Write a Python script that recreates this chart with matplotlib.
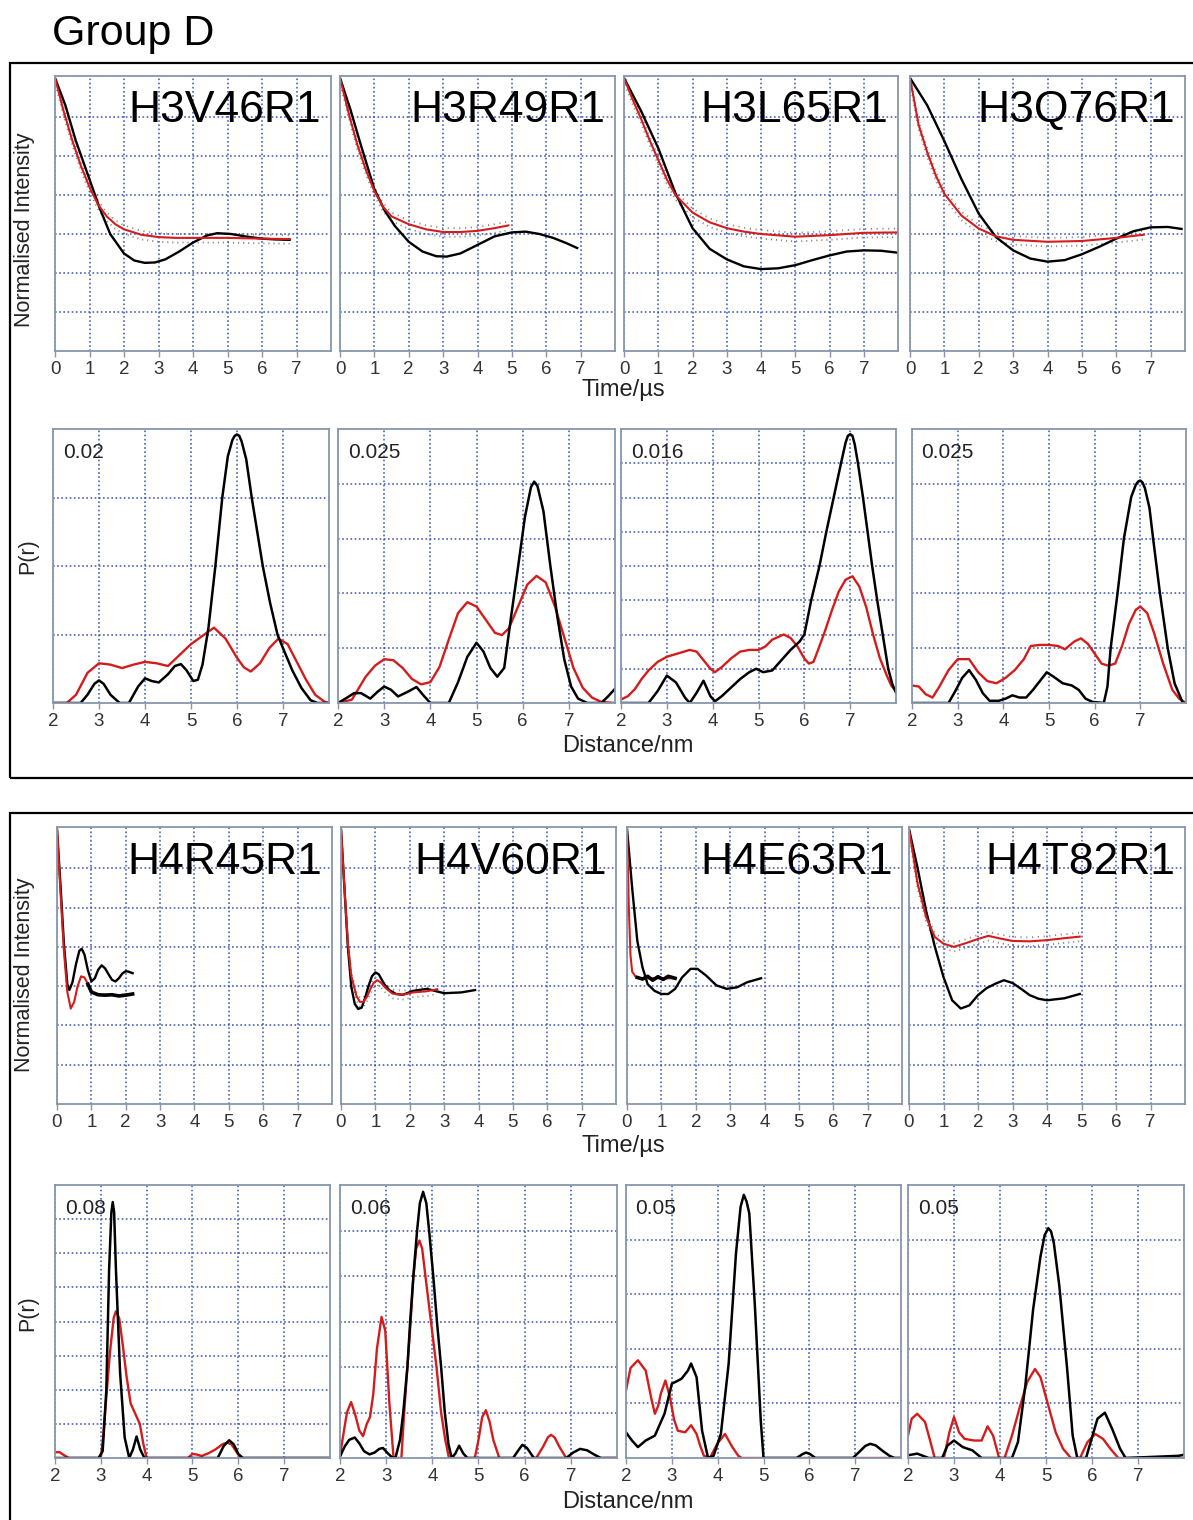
import matplotlib
matplotlib.use('Agg')
import matplotlib.pyplot as plt
from matplotlib.patches import Rectangle

plt.rcParams['font.family'] = ['Liberation Sans', 'DejaVu Sans']

W, H = 1193, 1520

# ---------------- time traces (normalised intensity, grid units 0..7) ----------------
h3v46_sim_t = [0, 0.3, 0.6, 1.0, 1.3, 1.6, 2.0, 2.3, 2.6, 2.9, 3.2, 3.6, 4.0, 4.4, 4.7, 5.1, 5.5, 6.0, 6.4, 6.8]
h3v46_sim_y = [7.0, 6.3, 5.4, 4.4, 3.65, 3.0, 2.5, 2.32, 2.26, 2.27, 2.35, 2.55, 2.78, 2.96, 3.02, 3.0, 2.94, 2.88, 2.86, 2.85]
h3v46_fit_t = [0, 0.25, 0.5, 0.75, 1.0, 1.25, 1.5, 1.75, 2.0, 2.5, 3.0, 3.5, 4.0, 5.0, 6.0, 6.8]
h3v46_fit_y = [7.0, 6.15, 5.4, 4.75, 4.2, 3.75, 3.45, 3.25, 3.12, 2.98, 2.92, 2.9, 2.9, 2.9, 2.88, 2.87]

h3r49_sim_t = [0, 0.3, 0.6, 1.0, 1.3, 1.6, 2.0, 2.4, 2.8, 3.1, 3.5, 4.0, 4.5, 5.0, 5.4, 5.8, 6.2, 6.6, 6.9]
h3r49_sim_y = [7.0, 6.2, 5.3, 4.15, 3.6, 3.2, 2.8, 2.55, 2.43, 2.42, 2.5, 2.72, 2.94, 3.04, 3.06, 3.0, 2.9, 2.76, 2.64]
h3r49_fit_t = [0, 0.25, 0.5, 0.75, 1.0, 1.25, 1.5, 2.0, 2.5, 3.0, 3.5, 4.0, 4.5, 4.9]
h3r49_fit_y = [7.0, 6.1, 5.3, 4.65, 4.1, 3.7, 3.45, 3.25, 3.12, 3.05, 3.05, 3.08, 3.15, 3.22]

h3l65_sim_t = [0, 0.5, 1.0, 1.5, 2.0, 2.5, 3.0, 3.5, 4.0, 4.5, 5.0, 5.5, 6.0, 6.5, 7.0, 7.5, 8.0]
h3l65_sim_y = [7.0, 6.15, 5.2, 4.05, 3.15, 2.62, 2.35, 2.17, 2.1, 2.12, 2.2, 2.33, 2.45, 2.55, 2.58, 2.57, 2.52]
h3l65_fit_t = [0, 0.25, 0.5, 0.75, 1.0, 1.25, 1.5, 2.0, 2.5, 3.0, 3.5, 4.0, 5.0, 6.0, 7.0, 8.0]
h3l65_fit_y = [7.0, 6.45, 5.95, 5.4, 4.9, 4.4, 4.0, 3.55, 3.3, 3.15, 3.06, 3.0, 2.93, 2.97, 3.03, 3.04]

h3q76_sim_t = [0, 0.5, 1.0, 1.5, 2.0, 2.5, 3.0, 3.5, 4.0, 4.5, 5.0, 5.5, 6.0, 6.5, 7.0, 7.5, 7.9]
h3q76_sim_y = [7.0, 6.3, 5.38, 4.4, 3.52, 2.92, 2.58, 2.37, 2.29, 2.33, 2.48, 2.67, 2.88, 3.07, 3.17, 3.18, 3.13]
h3q76_fit_t = [0, 0.25, 0.5, 0.75, 1.0, 1.5, 2.0, 2.5, 3.0, 4.0, 5.0, 6.0, 6.8]
h3q76_fit_y = [7.0, 5.8, 5.1, 4.5, 4.03, 3.47, 3.14, 2.94, 2.85, 2.8, 2.82, 2.9, 2.98]

h4r45_sim_t = [0, 0.1, 0.2, 0.3, 0.36, 0.45, 0.55, 0.65, 0.72, 0.8, 0.9, 1.0, 1.1, 1.2, 1.3, 1.4,
               1.5, 1.6, 1.7, 1.8, 1.9, 2.0, 2.07, 2.2]
h4r45_sim_y = [7.0, 5.6, 4.1, 3.05, 2.9, 3.1, 3.55, 3.9, 3.95, 3.8, 3.4, 3.12, 3.2, 3.42, 3.53, 3.45,
               3.3, 3.16, 3.12, 3.2, 3.32, 3.38, 3.37, 3.33]
h4r45_fit_t = [0, 0.1, 0.2, 0.3, 0.4, 0.5, 0.6, 0.7, 0.8, 0.9, 1.0, 1.1, 1.2, 1.5, 1.8, 2.2]
h4r45_fit_y = [7.0, 5.4, 3.9, 2.85, 2.43, 2.6, 3.0, 3.25, 3.22, 3.05, 2.88, 2.8, 2.78, 2.78, 2.77, 2.8]
h4r45_dat_t = [0.9, 1.0, 1.2, 1.4, 1.6, 1.8, 2.0, 2.2]
h4r45_dat_y = [3.05, 2.85, 2.78, 2.77, 2.78, 2.75, 2.77, 2.8]

h4v60_sim_t = [0, 0.1, 0.2, 0.3, 0.4, 0.5, 0.6, 0.7, 0.8, 0.9, 1.0, 1.1, 1.25, 1.4, 1.6, 1.8, 2.1,
               2.5, 3.0, 3.5, 3.9]
h4v60_sim_y = [7.0, 5.5, 4.0, 2.98, 2.55, 2.42, 2.45, 2.7, 3.0, 3.25, 3.35, 3.3, 3.06, 2.9, 2.8, 2.78,
               2.88, 2.93, 2.82, 2.84, 2.9]
h4v60_fit_t = [0, 0.1, 0.2, 0.3, 0.45, 0.55, 0.65, 0.75, 0.85, 0.95, 1.05, 1.15, 1.3, 1.5, 1.8, 2.1, 2.5, 2.8]
h4v60_fit_y = [7.0, 5.5, 4.1, 3.26, 2.75, 2.6, 2.6, 2.72, 2.92, 3.08, 3.15, 3.1, 2.95, 2.81, 2.78, 2.84, 2.87, 2.92]

h4e63_sim_t = [0, 0.15, 0.3, 0.45, 0.6, 0.8, 1.0, 1.2, 1.4, 1.6, 1.85, 2.05, 2.3, 2.6, 2.9, 3.2, 3.5, 3.9]
h4e63_sim_y = [7.0, 5.5, 4.15, 3.48, 3.05, 2.88, 2.8, 2.8, 2.93, 3.22, 3.44, 3.44, 3.27, 3.02, 2.93, 2.97, 3.1, 3.2]
h4e63_fit_t = [0, 0.05, 0.1, 0.15, 0.25, 0.4, 0.7, 1.0, 1.4]
h4e63_fit_y = [7.0, 5.1, 3.8, 3.37, 3.24, 3.2, 3.2, 3.2, 3.2]
h4e63_dat_t = [0.3, 0.45, 0.6, 0.75, 0.9, 1.05, 1.2, 1.4]
h4e63_dat_y = [3.22, 3.18, 3.25, 3.15, 3.24, 3.17, 3.25, 3.2]

h4t82_sim_t = [0, 0.25, 0.5, 0.75, 1.0, 1.25, 1.5, 1.75, 2.0, 2.25, 2.5, 2.75, 3.0, 3.25, 3.5, 3.75, 4.0, 4.5, 4.95]
h4t82_sim_y = [7.0, 6.0, 4.9, 4.0, 3.23, 2.64, 2.43, 2.51, 2.77, 2.95, 3.06, 3.15, 3.08, 2.93, 2.77, 2.68, 2.64, 2.69, 2.8]
h4t82_fit_t = [0, 0.25, 0.5, 0.75, 1.0, 1.3, 1.6, 2.0, 2.3, 2.6, 3.0, 3.5, 4.0, 4.5, 4.95]
h4t82_fit_y = [7.0, 5.6, 4.75, 4.25, 4.08, 4.0, 4.08, 4.2, 4.28, 4.22, 4.15, 4.14, 4.17, 4.22, 4.26]

# ---------------- distance distributions P(r) ----------------
h3v46_bk_r = [2.0, 2.6, 2.75, 2.9, 3.0, 3.1, 3.25, 3.45, 3.65, 3.85, 4.0, 4.15, 4.3, 4.5, 4.65, 4.78, 4.9, 5.05,
              5.15, 5.25, 5.38, 5.53, 5.68, 5.8, 5.9, 5.95, 6.0, 6.05, 6.1, 6.2, 6.32, 6.44, 6.56, 6.72, 6.88,
              7.0, 7.2, 7.4, 7.6, 7.75, 8.0]
h3v46_bk_p = [0, 0, 0.0006, 0.0014, 0.00165, 0.0014, 0.0006, 0, 0, 0.0012, 0.0018, 0.0016, 0.0015, 0.0021,
              0.0027, 0.00284, 0.0024, 0.0016, 0.0017, 0.0028, 0.0055, 0.0100, 0.0150, 0.0180, 0.0192, 0.0195,
              0.0196, 0.0195, 0.0191, 0.0178, 0.0150, 0.0125, 0.0100, 0.0073, 0.0050, 0.0040, 0.0024, 0.0011,
              0.0002, 0, 0]
h3v46_rd_r = [2.0, 2.3, 2.5, 2.75, 3.0, 3.25, 3.5, 3.75, 4.0, 4.25, 4.5, 4.75, 5.0, 5.25, 5.5, 5.75, 6.0,
              6.15, 6.3, 6.5, 6.7, 6.9, 7.1, 7.3, 7.5, 7.7, 7.9, 8.0]
h3v46_rd_p = [0, 0, 0.0006, 0.0022, 0.0029, 0.0028, 0.00255, 0.0028, 0.003, 0.0029, 0.0027, 0.0035, 0.0043,
              0.0049, 0.0055, 0.0047, 0.0033, 0.0026, 0.0023, 0.0029, 0.0040, 0.0047, 0.0043, 0.0030, 0.0017,
              0.0006, 0.0001, 0]

h3r49_bk_r = [2.0, 2.2, 2.35, 2.5, 2.7, 2.85, 3.0, 3.15, 3.3, 3.5, 3.7, 3.85, 4.0, 4.4, 4.6, 4.8, 5.0, 5.15,
              5.3, 5.45, 5.6, 5.75, 5.9, 6.05, 6.18, 6.25, 6.32, 6.45, 6.6, 6.75, 6.9, 7.05, 7.2, 7.4, 7.7,
              7.85, 8.0]
h3r49_bk_p = [0, 0.0005, 0.0009, 0.0009, 0.0004, 0.001, 0.0015, 0.0012, 0.0006, 0.001, 0.00146, 0.0007, 0, 0,
              0.0019, 0.0042, 0.0055, 0.0047, 0.0032, 0.0024, 0.0032, 0.0079, 0.0124, 0.0170, 0.0197, 0.0202,
              0.0198, 0.0175, 0.0125, 0.0079, 0.0040, 0.0015, 0.0004, 0, 0, 0.0006, 0.0013]
h3r49_rd_r = [2.0, 2.3, 2.6, 2.8, 3.0, 3.2, 3.4, 3.6, 3.8, 4.0, 4.2, 4.4, 4.6, 4.8, 5.0, 5.2, 5.4, 5.55, 5.7,
              5.9, 6.1, 6.3, 6.5, 6.7, 6.9, 7.1, 7.3, 7.5, 7.7, 8.0]
h3r49_rd_p = [0, 0.0003, 0.0024, 0.0034, 0.004, 0.0039, 0.0032, 0.0022, 0.0017, 0.0019, 0.0033, 0.0058, 0.0082,
              0.0092, 0.0088, 0.0076, 0.0064, 0.0062, 0.0068, 0.0088, 0.0108, 0.0116, 0.0110, 0.0088, 0.0060,
              0.0032, 0.0014, 0.0005, 0.0001, 0]

h3l65_bk_r = [2.0, 2.6, 2.8, 3.0, 3.2, 3.4, 3.5, 3.65, 3.8, 3.95, 4.05, 4.2, 4.4, 4.6, 4.8, 4.95, 5.1, 5.3,
              5.5, 5.7, 5.9, 6.0, 6.15, 6.33, 6.48, 6.64, 6.8, 6.9, 6.95, 7.0, 7.05, 7.1, 7.17, 7.28, 7.38,
              7.48, 7.59, 7.71, 7.83, 7.92, 8.0]
h3l65_bk_p = [0, 0, 0.0007, 0.0016, 0.0012, 0.0003, 0, 0.0006, 0.0013, 0.0004, 0.0001, 0.0004, 0.0009, 0.0014,
              0.0018, 0.002, 0.0018, 0.0019, 0.0025, 0.0031, 0.0036, 0.004, 0.006, 0.008, 0.010, 0.012, 0.014,
              0.0152, 0.0156, 0.0157, 0.0156, 0.0151, 0.014, 0.012, 0.010, 0.008, 0.006, 0.004, 0.002, 0.0011,
              0.0006]
h3l65_rd_r = [2.0, 2.15, 2.3, 2.45, 2.6, 2.8, 3.0, 3.25, 3.5, 3.65, 3.8, 3.95, 4.05, 4.2, 4.4, 4.6, 4.8, 5.0,
              5.15, 5.3, 5.55, 5.7, 5.85, 6.0, 6.1, 6.2, 6.3, 6.45, 6.6, 6.75, 6.9, 7.05, 7.2, 7.35, 7.5, 7.65,
              7.8, 7.9, 8.0]
h3l65_rd_p = [0.0002, 0.0004, 0.0008, 0.0014, 0.0019, 0.0024, 0.0027, 0.0029, 0.0031, 0.0030, 0.0025, 0.0020,
              0.0018, 0.0021, 0.0026, 0.0030, 0.0031, 0.0031, 0.0033, 0.0037, 0.0040, 0.0038, 0.0033, 0.0026,
              0.0023, 0.0024, 0.0031, 0.0042, 0.0054, 0.0065, 0.0072, 0.0074, 0.0068, 0.0056, 0.0040, 0.0026,
              0.0016, 0.0010, 0.0007]

h3q76_bk_r = [2.0, 2.8, 2.95, 3.1, 3.25, 3.4, 3.55, 3.7, 3.9, 4.05, 4.2, 4.35, 4.5, 4.65, 4.8, 4.95, 5.1, 5.3,
              5.5, 5.65, 5.8, 5.95, 6.2, 6.28, 6.35, 6.5, 6.64, 6.8, 6.9, 6.95, 7.0, 7.05, 7.1, 7.2, 7.28, 7.43,
              7.6, 7.75, 7.93, 8.0]
h3q76_bk_p = [0, 0, 0.0011, 0.0023, 0.0030, 0.0021, 0.0009, 0.0002, 0.0002, 0.0004, 0.0007, 0.0005, 0.0005,
              0.0012, 0.0020, 0.0028, 0.0024, 0.0018, 0.0016, 0.0012, 0.0004, 0.0001, 0, 0.0015, 0.005, 0.010,
              0.015, 0.0188, 0.0199, 0.0202, 0.0203, 0.0201, 0.0196, 0.0178, 0.015, 0.010, 0.005, 0.0018, 0, 0]
h3q76_rd_r = [2.0, 2.15, 2.3, 2.45, 2.6, 2.8, 3.0, 3.25, 3.45, 3.65, 3.85, 4.05, 4.25, 4.45, 4.6, 4.8, 5.0,
              5.2, 5.35, 5.55, 5.7, 5.85, 6.0, 6.15, 6.3, 6.45, 6.6, 6.75, 6.9, 7.0, 7.15, 7.3, 7.5, 7.7, 7.85, 8.0]
h3q76_rd_p = [0.0016, 0.0015, 0.0008, 0.0005, 0.0015, 0.0030, 0.0040, 0.0040, 0.0028, 0.0020, 0.0018, 0.0023,
              0.0030, 0.0040, 0.0052, 0.0053, 0.0053, 0.0052, 0.0049, 0.0056, 0.0059, 0.0054, 0.0045, 0.0036,
              0.0034, 0.0036, 0.0052, 0.0072, 0.0085, 0.0088, 0.0082, 0.0064, 0.0036, 0.0012, 0.0004, 0]

h4r45_bk_r = [2.0, 2.95, 3.04, 3.12, 3.18, 3.23, 3.26, 3.29, 3.33, 3.42, 3.52, 3.62, 3.7, 3.78, 3.86, 3.95,
              5.55, 5.68, 5.8, 5.9, 6.0, 6.1, 8.0]
h4r45_bk_p = [0, 0, 0.002, 0.020, 0.055, 0.072, 0.075, 0.072, 0.055, 0.025, 0.006, 0, 0.0025, 0.0063, 0.0025,
              0, 0, 0.0035, 0.0052, 0.0040, 0.0012, 0, 0]
h4r45_rd_r = [2.0, 2.1, 2.2, 2.3, 3.0, 3.05, 3.12, 3.2, 3.28, 3.33, 3.4, 3.48, 3.56, 3.65, 3.75, 3.85, 3.93,
              4.0, 4.9, 5.0, 5.1, 5.2, 5.35, 5.5, 5.65, 5.75, 5.85, 5.95, 6.05, 8.0]
h4r45_rd_p = [0.0017, 0.0017, 0.0008, 0, 0, 0.006, 0.018, 0.031, 0.041, 0.043, 0.041, 0.033, 0.024, 0.016,
              0.013, 0.010, 0.004, 0, 0, 0.0012, 0.0010, 0.0006, 0.0014, 0.0025, 0.0040, 0.0045, 0.0040,
              0.0020, 0, 0]

h4v60_bk_r = [2.0, 2.1, 2.2, 2.32, 2.42, 2.52, 2.64, 2.75, 2.85, 2.93, 3.02, 3.12, 3.2, 3.3, 3.37, 3.46, 3.52,
              3.59, 3.67, 3.73, 3.8, 3.87, 3.93, 4.02, 4.1, 4.19, 4.27, 4.35, 4.42, 4.5, 4.58, 4.67, 4.76, 5.75,
              5.85, 5.95, 6.05, 6.2, 6.9, 7.05, 7.2, 7.35, 7.5, 7.65, 8.0]
h4v60_bk_p = [0.0003, 0.0025, 0.004, 0.0045, 0.0032, 0.0015, 0.0008, 0.0012, 0.002, 0.0022, 0.0012, 0.0002, 0,
              0.004, 0.010, 0.020, 0.030, 0.040, 0.050, 0.056, 0.0585, 0.056, 0.050, 0.040, 0.030, 0.020, 0.010,
              0.003, 0, 0.001, 0.0027, 0.001, 0, 0, 0.0015, 0.0029, 0.0022, 0, 0, 0.0012, 0.002, 0.0017,
              0.0008, 0, 0]
h4v60_rd_r = [2.0, 2.07, 2.15, 2.24, 2.33, 2.42, 2.5, 2.58, 2.65, 2.72, 2.8, 2.9, 2.98, 3.07, 3.16, 3.33, 3.39,
              3.46, 3.53, 3.59, 3.65, 3.72, 3.78, 3.85, 3.97, 4.09, 4.19, 4.28, 4.36, 4.92, 5.0, 5.08, 5.16,
              5.24, 5.32, 5.45, 6.25, 6.4, 6.5, 6.57, 6.65, 6.75, 6.9, 8.0]
h4v60_rd_p = [0.0005, 0.005, 0.010, 0.0123, 0.0095, 0.006, 0.0048, 0.0075, 0.009, 0.014, 0.024, 0.031, 0.028,
              0.012, 0, 0, 0.010, 0.020, 0.030, 0.040, 0.046, 0.0478, 0.046, 0.040, 0.030, 0.020, 0.010, 0.004,
              0, 0, 0.004, 0.009, 0.0105, 0.008, 0.004, 0, 0, 0.0025, 0.0045, 0.0051, 0.0045, 0.0025, 0, 0]

h4e63_bk_r = [2.0, 2.13, 2.26, 2.43, 2.63, 2.84, 3.0, 3.21, 3.35, 3.42, 3.54, 3.66, 3.79, 3.91, 4.07, 4.24,
              4.4, 4.5, 4.57, 4.63, 4.69, 4.81, 4.94, 5.0, 5.72, 5.85, 5.93, 6.02, 6.13, 6.95, 7.1, 7.22, 7.33,
              7.45, 7.6, 7.75, 7.86, 8.0]
h4e63_bk_p = [0.0047, 0.0032, 0.002, 0.0032, 0.0041, 0.0081, 0.0136, 0.0145, 0.016, 0.0173, 0.0148, 0.005, 0,
              0.0004, 0.0044, 0.0173, 0.0375, 0.046, 0.0482, 0.047, 0.0448, 0.0282, 0.0069, 0, 0, 0.0007, 0.001,
              0.0007, 0, 0, 0.0012, 0.0022, 0.0026, 0.0023, 0.0013, 0.0004, 0, 0]
h4e63_rd_r = [2.0, 2.1, 2.26, 2.43, 2.55, 2.63, 2.7, 2.76, 2.86, 2.96, 3.05, 3.13, 3.29, 3.42, 3.54, 3.62,
              3.7, 3.83, 3.99, 4.16, 4.32, 4.45, 4.53, 8.0]
h4e63_rd_p = [0.0124, 0.0165, 0.0179, 0.016, 0.011, 0.0081, 0.0095, 0.0118, 0.0142, 0.0111, 0.007, 0.005,
              0.0047, 0.006, 0.0044, 0.0022, 0.0004, 0, 0.0026, 0.0044, 0.002, 0.0004, 0, 0]

h4t82_bk_r = [2.0, 2.2, 2.45, 2.74, 2.86, 3.0, 3.19, 3.4, 3.6, 4.26, 4.39, 4.55, 4.72, 4.88, 4.97, 5.05, 5.11,
              5.17, 5.29, 5.46, 5.58, 5.68, 5.87, 5.99, 6.12, 6.28, 6.44, 6.61, 6.73, 7.88, 8.0]
h4t82_bk_p = [0.0005, 0.0008, 0, 0, 0.0023, 0.0032, 0.002, 0.0014, 0, 0, 0.0029, 0.0132, 0.0272, 0.0369, 0.0408,
              0.0421, 0.0415, 0.0394, 0.0315, 0.0163, 0.0041, 0, 0, 0.0035, 0.0072, 0.0083, 0.0053, 0.0017, 0,
              0.0004, 0.0006]
h4t82_rd_r = [2.0, 2.08, 2.2, 2.37, 2.49, 2.58, 2.78, 2.9, 3.0, 3.11, 3.23, 3.44, 3.6, 3.73, 3.85, 3.98, 4.1,
              4.26, 4.42, 4.59, 4.76, 4.88, 5.05, 5.21, 5.37, 5.54, 5.74, 5.9, 6.07, 6.24, 6.4, 6.57, 8.0]
h4t82_rd_p = [0.0041, 0.0072, 0.0081, 0.0066, 0.0029, 0, 0, 0.0047, 0.0075, 0.0047, 0.0035, 0.0032, 0.0032,
              0.0058, 0.0041, 0, 0, 0.0041, 0.009, 0.0139, 0.0163, 0.0148, 0.0096, 0.0047, 0.0017, 0, 0, 0.0029,
              0.0044, 0.0035, 0.0017, 0, 0]

names_top = ['H3V46R1', 'H3R49R1', 'H3L65R1', 'H3Q76R1']
names_bot = ['H4R45R1', 'H4V60R1', 'H4E63R1', 'H4T82R1']
pr_max_top = [0.02, 0.025, 0.016, 0.025]
pr_step_top = [0.005, 0.005, 0.002, 0.005]
pr_lab_top = ['0.02', '0.025', '0.016', '0.025']
pr_max_bot = [0.08, 0.06, 0.05, 0.05]
pr_step_bot = [0.01, 0.01, 0.01, 0.01]
pr_lab_bot = ['0.08', '0.06', '0.05', '0.05']

time_top = [
    (h3v46_sim_t, h3v46_sim_y, h3v46_fit_t, h3v46_fit_y, None, None),
    (h3r49_sim_t, h3r49_sim_y, h3r49_fit_t, h3r49_fit_y, None, None),
    (h3l65_sim_t, h3l65_sim_y, h3l65_fit_t, h3l65_fit_y, None, None),
    (h3q76_sim_t, h3q76_sim_y, h3q76_fit_t, h3q76_fit_y, None, None),
]
time_bot = [
    (h4r45_sim_t, h4r45_sim_y, h4r45_fit_t, h4r45_fit_y, h4r45_dat_t, h4r45_dat_y),
    (h4v60_sim_t, h4v60_sim_y, h4v60_fit_t, h4v60_fit_y, None, None),
    (h4e63_sim_t, h4e63_sim_y, h4e63_fit_t, h4e63_fit_y, h4e63_dat_t, h4e63_dat_y),
    (h4t82_sim_t, h4t82_sim_y, h4t82_fit_t, h4t82_fit_y, None, None),
]
pr_top = [
    (h3v46_bk_r, h3v46_bk_p, h3v46_rd_r, h3v46_rd_p),
    (h3r49_bk_r, h3r49_bk_p, h3r49_rd_r, h3r49_rd_p),
    (h3l65_bk_r, h3l65_bk_p, h3l65_rd_r, h3l65_rd_p),
    (h3q76_bk_r, h3q76_bk_p, h3q76_rd_r, h3q76_rd_p),
]
pr_bot = [
    (h4r45_bk_r, h4r45_bk_p, h4r45_rd_r, h4r45_rd_p),
    (h4v60_bk_r, h4v60_bk_p, h4v60_rd_r, h4v60_rd_p),
    (h4e63_bk_r, h4e63_bk_p, h4e63_rd_r, h4e63_rd_p),
    (h4t82_bk_r, h4t82_bk_p, h4t82_rd_r, h4t82_rd_p),
]

# panel boxes in pixels (x0, y0, x1, y1)
boxes_time_top = [(55, 76, 331, 351), (340, 76, 615, 351), (624, 76, 898, 351), (910, 76, 1185, 351)]
boxes_pr_top = [(53, 429, 329, 703), (338, 429, 615, 703), (621, 429, 896, 703), (912, 429, 1186, 703)]
boxes_time_bot = [(57, 827, 332, 1104), (341, 827, 616, 1104), (627, 827, 902, 1104), (909, 827, 1185, 1104)]
boxes_pr_bot = [(55, 1185, 330, 1458), (340, 1185, 617, 1458), (626, 1185, 901, 1458), (908, 1185, 1184, 1458)]

GRID = '#2b47b5'
SPINE = '#8796ad'
RED = '#d41c1c'

fig = plt.figure(figsize=(W / 100, H / 100), dpi=100)


def px_axes(b):
    x0, y0, x1, y1 = b
    return fig.add_axes([x0 / W, 1 - y1 / H, (x1 - x0) / W, (y1 - y0) / H])


def style(ax, xticks):
    ax.set_xticks(xticks)
    ax.tick_params(axis='x', length=4, width=1, color=SPINE, labelsize=13.5, labelcolor='#333333', pad=3)
    ax.tick_params(axis='y', length=0, labelleft=False)
    ax.grid(True, color=GRID, linestyle=(0, (1, 1.5)), linewidth=1.2, alpha=0.85)
    ax.set_axisbelow(True)
    for s in ax.spines.values():
        s.set_color(SPINE)
        s.set_linewidth(1.3)


def time_panel(b, curves, name):
    st, sy, ft, fy, dt, dy = curves
    ax = px_axes(b)
    ax.set_xlim(0, 8)
    ax.set_ylim(0, 7.05)
    ax.set_yticks(range(1, 7))
    style(ax, range(0, 8))
    if dt is None:
        # faint dotted band standing in for the scattered experimental points
        ax.plot(ft, [v + 0.1 for v in fy], color='0.3', lw=1.3, linestyle=(0, (0.6, 2.6)), alpha=0.7)
        ax.plot(ft, [v - 0.12 for v in fy], color='0.3', lw=1.3, linestyle=(1.5, (0.6, 2.2)), alpha=0.7)
    ax.plot(st, sy, color='black', lw=1.7)
    ax.plot(ft, fy, color=RED, lw=1.5)
    if dt is not None:
        ax.plot(dt, dy, color='black', lw=2.6)
    ax.text(0.965, 0.832, name, transform=ax.transAxes, ha='right', va='baseline', fontsize=32)


def pr_panel(b, curves, pmax, step, lab):
    br, bp, rr, rp = curves
    ax = px_axes(b)
    ax.set_xlim(2, 8)
    ax.set_ylim(0, pmax)
    n = int(round(pmax / step))
    ax.set_yticks([step * k for k in range(1, n)])
    style(ax, range(2, 8))
    ax.plot(rr, rp, color=RED, lw=1.7)
    ax.plot(br, bp, color='black', lw=1.8)
    ax.text(0.035, 0.915, lab, transform=ax.transAxes, ha='left', va='center', fontsize=15, color='#222222')


for b, c, n in zip(boxes_time_top, time_top, names_top):
    time_panel(b, c, n)
for b, c, n in zip(boxes_time_bot, time_bot, names_bot):
    time_panel(b, c, n)
for b, c, m, s, l in zip(boxes_pr_top, pr_top, pr_max_top, pr_step_top, pr_lab_top):
    pr_panel(b, c, m, s, l)
for b, c, m, s, l in zip(boxes_pr_bot, pr_bot, pr_max_bot, pr_step_bot, pr_lab_bot):
    pr_panel(b, c, m, s, l)


def ftext(x, y, s, **kw):
    fig.text(x / W, 1 - y / H, s, **kw)


ftext(52, 34, 'Group D', ha='left', va='center', fontsize=31)
for yy in (390, 1146):
    ftext(623, yy, 'Time/\u00b5s', ha='center', va='center', fontsize=17, color='#222222')
for yy in (746, 1502):
    ftext(628, yy, 'Distance/nm', ha='center', va='center', fontsize=17, color='#222222')
for yy in (230, 975):
    ftext(25, yy, 'Normalised Intensity', ha='center', va='center', rotation=90, fontsize=15.5, color='#222222')
for yy in (556, 1313):
    ftext(28, yy, 'P(r)', ha='center', va='center', rotation=90, fontsize=15.5, color='#222222')

# group frames
fig.add_artist(Rectangle((10 / W, 1 - 778 / H), 1200 / W, 715 / H, transform=fig.transFigure,
                         fill=False, edgecolor='black', lw=1.6, clip_on=False))
fig.add_artist(Rectangle((10 / W, 1 - 1530 / H), 1200 / W, 717 / H, transform=fig.transFigure,
                         fill=False, edgecolor='black', lw=1.6, clip_on=False))

fig.savefig('out.png', dpi=100)
